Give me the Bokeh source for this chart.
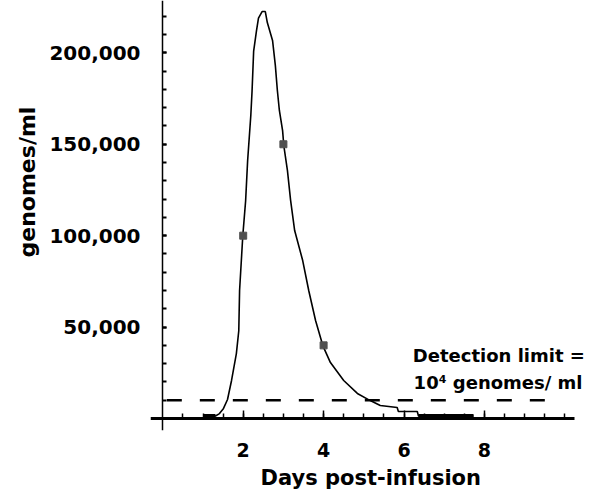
import math
from bokeh.plotting import figure
from bokeh.models import (LinearAxis, FixedTicker, NumeralTickFormatter, Label, Range1d, Title)
from bokeh.embed import file_html
from bokeh.resources import INLINE

# ---- data ----
curve_days = [1.01, 1.31, 1.41, 1.51, 1.61, 1.71, 1.83, 1.89, 1.91, 1.99, 2.06, 2.11,
              2.19, 2.22, 2.26, 2.33, 2.38, 2.47, 2.55, 2.60, 2.73, 2.80, 2.85, 2.90,
              2.98, 3.01, 3.10, 3.18, 3.28, 3.48, 3.63, 3.80, 3.98, 4.17, 4.50, 4.84,
              5.16, 5.41, 5.83, 5.86, 6.33, 6.36, 7.73]
curve_values = [1400, 1400, 2700, 5500, 10400, 20800, 35500, 48000, 70000, 100000, 119000, 141000,
                166000, 179000, 201000, 212000, 219000, 222600, 222600, 216600, 206800, 193000, 179400, 168500,
                157500, 149300, 135700, 119200, 102800, 86400, 70000, 53600, 39900, 30600, 20800, 13700,
                9800, 7100, 6000, 3800, 3800, 1400, 1400]

obs_days = [2, 3, 4]
obs_values = [100000, 150000, 40000]

detection_limit = 10000
limit_days = [0.1, 9.6]

x_major = [2, 4, 6, 8]
x_minor = [0.5 * i for i in range(1, 21)]
y_major = [50000, 100000, 150000, 200000]
y_minor = [10000 * i for i in range(1, 23)]

FONT = "DejaVu Sans"

p = figure(width=600, height=495, output_backend="svg", toolbar_location=None,
           x_range=Range1d(-0.306, 10.888), y_range=Range1d(-6564, 228646),
           x_axis_type=None, y_axis_type=None,
           min_border_left=150, min_border_right=0, min_border_top=0, min_border_bottom=65)
p.outline_line_color = None
p.xgrid.visible = False
p.ygrid.visible = False
p.background_fill_color = "white"
p.border_fill_color = "white"


def label_axis(axis, size, standoff):
    axis.axis_line_color = None
    axis.major_tick_line_color = None
    axis.minor_tick_line_color = None
    axis.major_tick_in = 0
    axis.major_tick_out = 0
    axis.minor_tick_in = 0
    axis.minor_tick_out = 0
    axis.major_label_standoff = standoff
    axis.major_label_text_font = FONT
    axis.major_label_text_font_style = "bold"
    axis.major_label_text_font_size = size
    axis.major_label_text_color = "black"


# axes carrying the tick labels, at the frame edges
xlab = LinearAxis(ticker=FixedTicker(ticks=x_major, minor_ticks=[]))
label_axis(xlab, "19px", 12)
p.add_layout(xlab, "below")

ylab = LinearAxis(ticker=FixedTicker(ticks=y_major, minor_ticks=[]),
                  formatter=NumeralTickFormatter(format="0,0"))
label_axis(ylab, "20px", 10)
p.add_layout(ylab, "left")

# axis titles
xtitle = Title(text="Days post-infusion", align="left", offset=110, standoff=8,
               text_font=FONT, text_font_style="bold", text_font_size="21px",
               text_color="black")
p.add_layout(xtitle, "below")
ytitle = Title(text="genomes/ml", align="left", offset=173, standoff=14,
               text_font=FONT, text_font_style="bold", text_font_size="22px",
               text_color="black")
p.add_layout(ytitle, "left")

# axis lines and ticks, crossing at zero
xaxis = LinearAxis(fixed_location=0, bounds=(-0.3, 10.25),
                   ticker=FixedTicker(ticks=x_major, minor_ticks=x_minor))
xaxis.axis_line_width = 3
xaxis.axis_line_color = "black"
xaxis.major_tick_in = 8
xaxis.major_tick_out = 0
xaxis.minor_tick_in = 5
xaxis.minor_tick_out = 0
xaxis.major_tick_line_width = 1.5
xaxis.minor_tick_line_width = 1.5
xaxis.major_label_text_color = None
p.add_layout(xaxis, "below")

yaxis = LinearAxis(fixed_location=0,
                   ticker=FixedTicker(ticks=y_major, minor_ticks=y_minor))
yaxis.axis_line_width = 1.5
yaxis.axis_line_color = "black"
yaxis.major_tick_in = 4
yaxis.major_tick_out = 0
yaxis.minor_tick_in = 4
yaxis.minor_tick_out = 0
yaxis.major_tick_line_width = 2
yaxis.minor_tick_line_width = 2
yaxis.major_label_text_color = None
p.add_layout(yaxis, "left")

# detection limit
p.line(limit_days, [detection_limit, detection_limit], line_color="black",
       line_width=2.5, line_dash="15 18")

# fitted curve
p.line(curve_days, curve_values, line_color="black", line_width=1.6)
p.line(curve_days[:2], curve_values[:2], line_color="black", line_width=4)
p.line(curve_days[-2:], curve_values[-2:], line_color="black", line_width=4)

# observations
p.scatter(obs_days, obs_values, marker="square", size=7, fill_color="#505050",
          line_color="#505050")

p.add_layout(Label(x=8.36, y=34400, text="Detection limit =",
                   text_align="center", text_baseline="alphabetic", text_font=FONT,
                   text_font_style="bold", text_font_size="18px", text_color="black"))
p.add_layout(Label(x=8.34, y=19700, text="10\u2074 genomes/ ml",
                   text_align="center", text_baseline="alphabetic", text_font=FONT,
                   text_font_style="bold", text_font_size="18px", text_color="black"))

open("out.html", "w").write(file_html(p, INLINE))
